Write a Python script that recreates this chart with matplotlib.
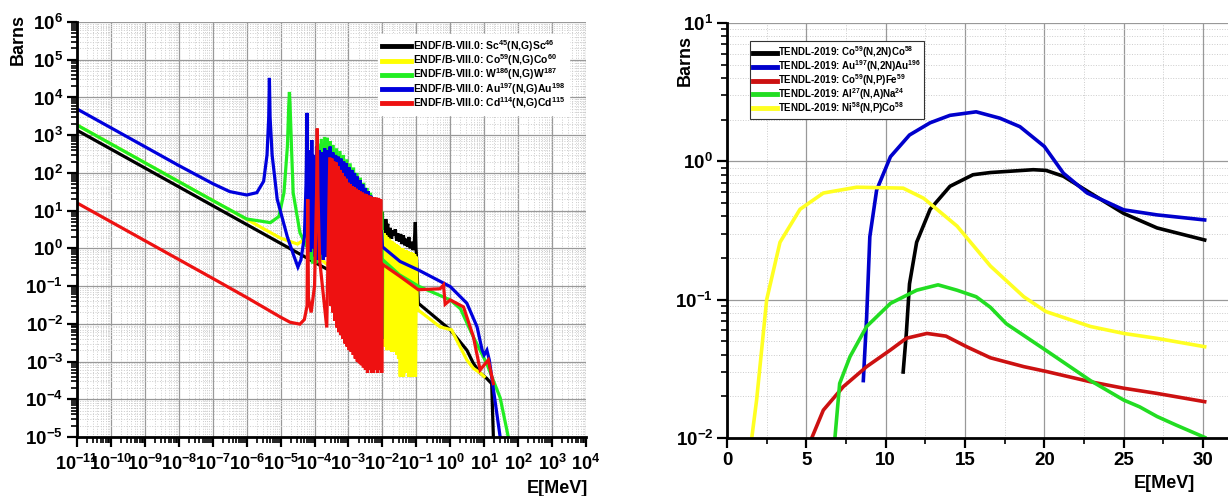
import numpy as np
import matplotlib
matplotlib.use("Agg")
import matplotlib.pyplot as plt
from matplotlib.ticker import LogLocator, MultipleLocator, NullFormatter

plt.rcParams['font.family'] = ['Liberation Sans', 'DejaVu Sans']
plt.rcParams['font.weight'] = 'bold'
plt.rcParams['mathtext.fontset'] = 'custom'
plt.rcParams['mathtext.rm'] = 'Liberation Sans:bold'
plt.rcParams['mathtext.bf'] = 'Liberation Sans:bold'
plt.rcParams['mathtext.it'] = 'Liberation Sans:bold'
plt.rcParams['mathtext.default'] = 'bf'
plt.rcParams['axes.unicode_minus'] = False

# ---- left panel: ENDF/B-VIII.0 (n,g), log10(E/MeV) and barns ----
sc_logE = [-11, -2.02, -2.0, -1.98, -1.95, -1.93, -1.9, -1.87, -1.84, -1.82, -1.8, -1.77,
           -1.73, -1.7, -1.66, -1.62, -1.58, -1.55, -1.5, -1.46, -1.42, -1.38, -1.34,
           -1.3, -1.26, -1.22, -1.18, -1.14, -1.1, -1.06, -1.03, -1.01, -0.99, -0.94,
           0.0, 0.49, 0.68, 0.88, 1.07, 1.22, 1.27]
sc_xs = [1350, 0.044, 9, 0.9, 5, 1.5, 6, 3, 4.5, 0.0025, 2, 3.5,
         1.8, 3, 2.2, 3.2, 1.6, 2.5, 1.5, 2.4, 1.3, 2.2, 1.2,
         1.8, 1.1, 2.0, 1.0, 1.5, 0.9, 1.4, 5, 1.0, 0.5, 0.035,
         0.0069, 0.002, 9e-4, 5e-4, 3.6e-4, 2.6e-4, 1e-5]

co_logE = [-11, -5.0, -4.5, -4.2, -4.0, -3.9, -3.8, -3.5, -2.5, -2.02,
           -2.0, -1.975, -1.95, -1.925, -1.9, -1.875, -1.85, -1.825, -1.8, -1.775,
           -1.75, -1.725, -1.7, -1.675, -1.65, -1.625, -1.6, -1.575, -1.55, -1.525,
           -1.5, -1.475, -1.45, -1.425, -1.4, -1.375, -1.35, -1.325, -1.3, -1.275,
           -1.25, -1.225, -1.2, -1.175, -1.15, -1.125, -1.1, -1.075, -1.05, -1.025,
           -1.0, -0.97, -0.94, -0.3, 0.04, 0.19, 0.49, 0.68, 0.88, 1.0]
co_xs = [1860, 1.86, 1.3, 2, 20, 500, 0.5, 0.3, 0.5, 0.6,
         3, 0.003, 2.5, 0.0025, 2.2, 0.002, 2.0, 0.0025, 1.8, 0.002,
         1.6, 0.0018, 1.5, 0.002, 1.4, 0.0018, 1.3, 0.0015, 1.2, 0.0012,
         1.1, 0.0004, 1.0, 0.0004, 1.0, 0.0004, 0.9, 0.0005, 0.9, 0.0012,
         0.85, 0.0004, 0.8, 0.0004, 0.8, 0.0004, 0.75, 0.0004, 0.7, 0.0004,
         0.6, 0.03, 0.023, 0.0083, 0.0069, 0.0037, 0.0011, 6.6e-4, 5e-4, 4e-4]

w_logE = [-11, -7, -6.0, -5.6, -5.3, -5.05, -4.9, -4.8, -4.76, -4.74, -4.72, -4.68,
          -4.63, -4.43, -4.23, -4.18, -4.14, -4.10, -4.06, -4.0, -3.96, -3.9, -3.86,
          -3.8, -3.76, -3.70, -3.66, -3.62, -3.58, -3.54, -3.50, -3.45, -3.40, -3.35,
          -3.30, -3.25, -3.20, -3.15, -3.10, -3.05, -3.00, -2.95, -2.90, -2.85, -2.80,
          -2.75, -2.70, -2.65, -2.60, -2.55, -2.50, -2.45, -2.40, -2.35, -2.30, -2.25,
          -2.20, -2.15, -2.10, -2.05, -2.01, -2.0, -1.99, -1.5, -0.94, 0.0, 0.3,
          0.68, 1.07, 1.47, 1.71]
w_xs = [1860, 18.6, 6.0, 5.3, 4.8, 7, 30, 500, 6000, 14000, 6000, 500,
        30, 2.6, 1.1, 3, 0.5, 60, 0.4, 200, 0.4, 600, 0.5,
        800, 0.5, 900, 0.6, 850, 0.5, 700, 0.6, 550, 0.5, 450,
        0.6, 380, 0.5, 300, 0.6, 230, 0.5, 180, 0.6, 140, 0.5,
        100, 0.6, 75, 0.5, 55, 0.6, 40, 0.5, 30, 0.6, 22,
        0.5, 15, 0.6, 10, 9, 0.004, 0.5, 0.2, 0.1, 0.043, 0.025,
        0.0045, 9e-4, 1.1e-4, 1e-5]

au_logE = [-11, -8, -7, -6.5, -6.0, -5.7, -5.5, -5.4, -5.35, -5.33, -5.31, -5.25,
           -5.1, -4.8, -4.6, -4.49, -4.4, -4.3, -4.25, -4.22, -4.19,
           -4.15, -4.12, -4.08, -4.05, -4.01, -3.98, -3.94, -3.90, -3.86, -3.82,
           -3.78, -3.74, -3.70, -3.66, -3.62, -3.58, -3.54, -3.50, -3.46, -3.42,
           -3.38, -3.34, -3.30, -3.26, -3.22, -3.18, -3.14, -3.10, -3.06, -3.02,
           -2.98, -2.94, -2.90, -2.86, -2.82, -2.78, -2.74, -2.70, -2.66, -2.62,
           -2.58, -2.54, -2.50, -2.46, -2.42, -2.38, -2.34, -2.30, -2.26, -2.22,
           -2.18, -2.14, -2.10, -2.06, -2.03, -2.0, -1.48, -0.95, 0.0, 0.49, 0.79,
           0.94, 1.0, 1.08, 1.15, 1.47]
au_xs = [4960, 157, 52, 32, 26, 30, 60, 300, 3000, 33000, 3000, 300,
         20, 2, 0.6, 0.32, 0.5, 2, 50, 3900, 1.0,
         400, 0.8, 740, 1.0, 300, 0.6, 500, 0.5, 400, 0.7,
         350, 0.5, 450, 0.6, 400, 0.5, 500, 0.7, 350, 0.5,
         300, 0.6, 270, 0.5, 240, 0.6, 200, 0.5, 180, 0.6,
         140, 0.5, 120, 0.6, 100, 0.5, 80, 0.6, 65, 0.5,
         50, 0.6, 40, 0.5, 33, 0.6, 25, 0.7, 20, 0.8,
         14, 0.9, 10, 1.0, 3, 1.1, 0.45, 0.27, 0.097, 0.035, 0.0083,
         0.002, 0.0015, 0.002, 0.0011, 1e-5]

cd_logE = [-11, -7, -6, -5.0, -4.72, -4.43, -4.3, -4.22, -4.2, -4.18, -4.1, -4.0,
           -3.94, -3.92, -3.9, -3.85, -3.64,
           -3.55, -3.52, -3.49, -3.46, -3.43, -3.40, -3.37, -3.34, -3.31, -3.28,
           -3.25, -3.22, -3.19, -3.16, -3.13, -3.10, -3.07, -3.04, -3.01, -2.98,
           -2.95, -2.92, -2.89, -2.86, -2.83, -2.80, -2.77, -2.74, -2.71, -2.68,
           -2.65, -2.62, -2.59, -2.56, -2.53, -2.50, -2.47, -2.44, -2.41, -2.38,
           -2.35, -2.32, -2.29, -2.26, -2.23, -2.20, -2.17, -2.14, -2.11, -2.08,
           -2.05, -2.02, -2.0, -1.48, -0.94, -0.3, -0.2, -0.15, 0.0, 0.39, 0.68,
           0.88, 1.12, 1.27]
cd_xs = [16, 0.16, 0.05, 0.015, 0.011, 0.0098, 0.013, 0.03, 20, 0.05, 0.02, 0.1,
         30, 1500, 30, 0.5, 0.008,
         260, 0.03, 240, 0.02, 200, 0.012, 190, 0.008, 150, 0.006,
         120, 0.005, 100, 0.004, 80, 0.003, 70, 0.0025, 55, 0.002,
         50, 0.0018, 45, 0.0015, 42, 0.0012, 38, 0.001, 35, 0.0009,
         32, 0.0008, 30, 0.0007, 28, 0.0006, 27, 0.0005, 25, 0.0006,
         24, 0.0005, 23, 0.0005, 22, 0.0006, 22, 0.0005, 21, 0.0006,
         20, 0.0005, 0.38, 0.18, 0.08, 0.085, 0.107, 0.033, 0.043, 0.028, 0.0046,
         6e-4, 0.0011, 2.6e-4]

left_labels = ['ENDF/B-VIII.0: Sc$^{45}$(N,G)Sc$^{46}$',
               'ENDF/B-VIII.0: Co$^{59}$(N,G)Co$^{60}$',
               'ENDF/B-VIII.0: W$^{186}$(N,G)W$^{187}$',
               'ENDF/B-VIII.0: Au$^{197}$(N,G)Au$^{198}$',
               'ENDF/B-VIII.0: Cd$^{114}$(N,G)Cd$^{115}$']
left_colors = ['#000000', '#ffff00', '#22ee22', '#0000dd', '#ee1111']

# ---- right panel: TENDL-2019 threshold reactions, E in MeV ----
co2n_E = [11.1, 11.3, 11.5, 11.95, 12.8, 14.05, 15.5, 16.6, 19.3, 20.1, 21.2, 22.9, 25.0, 27.1, 30.1]
co2n_xs = [0.030, 0.057, 0.13, 0.26, 0.45, 0.66, 0.80, 0.83, 0.87, 0.86, 0.78, 0.59, 0.42, 0.33, 0.27]
au2n_E = [8.59, 8.8, 9.0, 9.43, 10.3, 11.5, 12.8, 14.05, 15.7, 17.2, 18.46, 20.0, 21.2, 22.7, 25.0, 27.1, 30.1]
au2n_xs = [0.026, 0.075, 0.285, 0.62, 1.08, 1.55, 1.9, 2.15, 2.28, 2.05, 1.78, 1.28, 0.82, 0.59, 0.446, 0.41, 0.377]
cop_E = [5.34, 6.07, 7.33, 8.8, 10.3, 11.3, 12.6, 13.8, 15.1, 16.6, 18.7, 20.1, 22.9, 25.0, 27.1, 30.1]
cop_xs = [0.01, 0.0159, 0.0235, 0.0328, 0.0433, 0.0526, 0.057, 0.0545, 0.0457, 0.038, 0.0328, 0.0303, 0.0255, 0.0229, 0.021, 0.0183]
ala_E = [6.8, 7.1, 7.75, 8.8, 10.3, 11.95, 13.3, 14.5, 15.7, 16.6, 17.6, 20.1, 22.9, 25.0, 26.0, 27.1, 28.3, 30.1]
ala_xs = [0.01, 0.0248, 0.0387, 0.064, 0.094, 0.117, 0.128, 0.117, 0.105, 0.088, 0.067, 0.043, 0.026, 0.0188, 0.0168, 0.0143, 0.0124, 0.0101]
nip_E = [1.56, 1.87, 2.5, 3.34, 4.6, 6.07, 8.17, 11.1, 12.4, 14.5, 16.6, 18.7, 20.1, 22.9, 25.0, 27.1, 30.1]
nip_xs = [0.01, 0.019, 0.1, 0.26, 0.45, 0.59, 0.65, 0.64, 0.54, 0.34, 0.175, 0.105, 0.082, 0.064, 0.057, 0.0525, 0.0457]

right_labels = ['TENDL-2019: Co$^{59}$(N,2N)Co$^{58}$',
                'TENDL-2019: Au$^{197}$(N,2N)Au$^{196}$',
                'TENDL-2019: Co$^{59}$(N,P)Fe$^{59}$',
                'TENDL-2019: Al$^{27}$(N,A)Na$^{24}$',
                'TENDL-2019: Ni$^{58}$(N,P)Co$^{58}$']
right_colors = ['#000000', '#0000cc', '#cc1111', '#22dd22', '#ffff22']

fig = plt.figure(figsize=(12.28, 4.96), dpi=100)
ax1 = fig.add_axes([77/1228, 1-437/496, 509/1228, 415/496])
ax2 = fig.add_axes([727/1228, 1-438/496, 501/1228, 415/496])

left_sets = [(sc_logE, sc_xs), (co_logE, co_xs), (w_logE, w_xs), (au_logE, au_xs), (cd_logE, cd_xs)]
for (le, xs), lab, c in zip(left_sets, left_labels, left_colors):
    ax1.plot(10.0**np.array(le), xs, color=c, lw=2.3, label=lab, solid_joinstyle='miter')

ax1.set_xscale('log')
ax1.set_yscale('log')
ax1.set_xlim(1e-11, 1e4)
ax1.set_ylim(1e-5, 1e6)
ax1.xaxis.set_major_locator(LogLocator(base=10, numticks=20))
ax1.xaxis.set_minor_locator(LogLocator(base=10, subs=np.arange(2, 10), numticks=200))
ax1.xaxis.set_minor_formatter(NullFormatter())
ax1.yaxis.set_major_locator(LogLocator(base=10, numticks=20))
ax1.yaxis.set_minor_locator(LogLocator(base=10, subs=np.arange(2, 10), numticks=200))
ax1.yaxis.set_minor_formatter(NullFormatter())

right_sets = [(co2n_E, co2n_xs), (au2n_E, au2n_xs), (cop_E, cop_xs), (ala_E, ala_xs), (nip_E, nip_xs)]
for (e, xs), lab, c in zip(right_sets, right_labels, right_colors):
    ax2.plot(e, xs, color=c, lw=2.6, label=lab)

ax2.set_yscale('log')
ax2.set_xlim(0, 31.57)
ax2.set_ylim(1e-2, 10)
ax2.xaxis.set_major_locator(MultipleLocator(5))
ax2.xaxis.set_minor_locator(MultipleLocator(2.5))
ax2.yaxis.set_major_locator(LogLocator(base=10, numticks=10))
ax2.yaxis.set_minor_locator(LogLocator(base=10, subs=np.arange(2, 10), numticks=100))
ax2.yaxis.set_minor_formatter(NullFormatter())

for ax in (ax1, ax2):
    ax.grid(True, which='major', color='#999999', lw=0.9, ls='-')
    ax.grid(True, which='minor', color='#cccccc', lw=0.7, ls=':')
    ax.set_axisbelow(True)
    ax.spines['top'].set_visible(False)
    ax.spines['right'].set_visible(False)
    ax.spines['left'].set_linewidth(2)
    ax.spines['bottom'].set_linewidth(2)
    ax.tick_params(which='major', direction='out', length=7, width=1.6, labelsize=13.5, pad=3)
    ax.tick_params(which='minor', direction='out', length=4, width=1.2)
    ax.set_xlabel('E[MeV]', fontsize=13, fontweight='bold')
    ax.set_ylabel('Barns', fontsize=13, fontweight='bold')

ax1.tick_params(axis='x', which='major', labelsize=13, pad=5)
ax1.xaxis.set_label_coords(0.943, -0.104)
ax1.yaxis.set_label_coords(-0.098, 0.957)
ax2.xaxis.set_label_coords(0.874, -0.089)
ax2.yaxis.set_label_coords(-0.066, 0.91)

leg1 = ax1.legend(loc='upper left', bbox_to_anchor=(378/1228, 1-34/496), bbox_transform=fig.transFigure,
                  fontsize=7.5, frameon=True, fancybox=False, edgecolor='white', framealpha=1,
                  handlelength=2.8, handletextpad=0.15, labelspacing=-0.15, borderpad=0.4, borderaxespad=0)
for line in leg1.get_lines():
    line.set_linewidth(3.5)

leg2 = ax2.legend(loc='upper left', bbox_to_anchor=(750/1228, 1-41/496), bbox_transform=fig.transFigure,
                  fontsize=7, frameon=True, fancybox=False, edgecolor='#333333', framealpha=1,
                  handlelength=2.4, handletextpad=0.1, labelspacing=-0.2, borderpad=0.35, borderaxespad=0)
leg2.get_frame().set_linewidth(0.8)
for line in leg2.get_lines():
    line.set_linewidth(3.5)

fig.savefig('out.png', dpi=100)
